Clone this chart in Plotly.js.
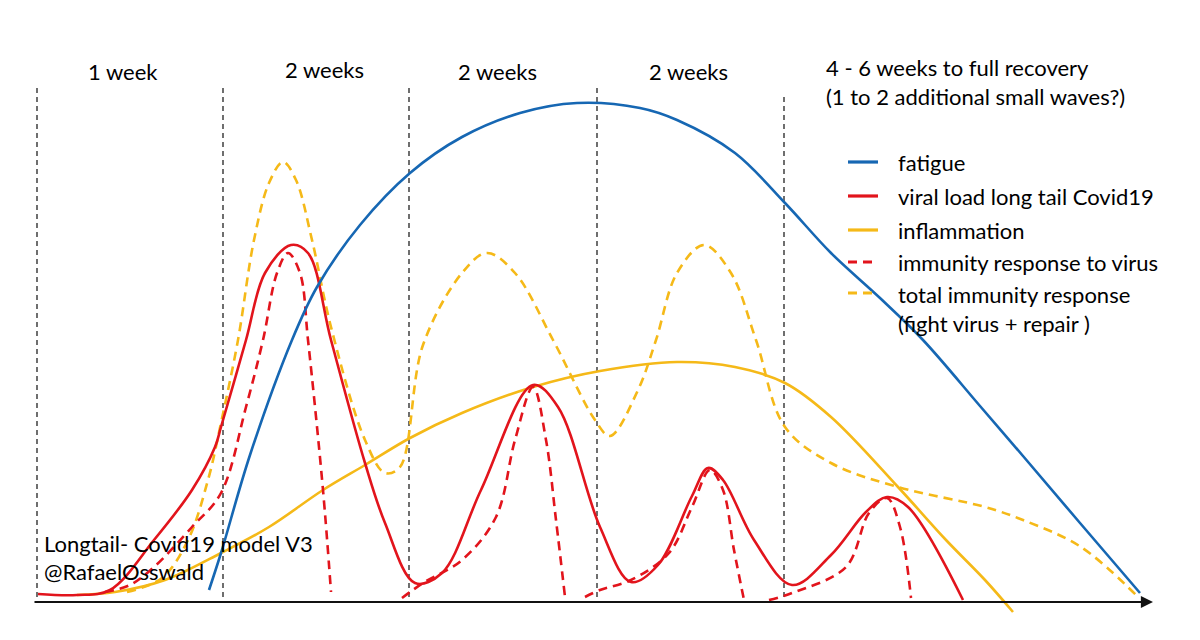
<!DOCTYPE html>
<html>
<head>
<meta charset="utf-8">
<script src="https://cdn.plot.ly/plotly-3.0.1.min.js"></script>
<style>html,body{margin:0;padding:0;background:#fff;}#chart{width:1200px;height:640px;}</style>
</head>
<body>
<div id="chart"></div>
<script>
// ---- data (in drawing units) ----
const fatigueX = [209,221,250,292,317,360,410,462,520,577,640,677,735,785,831,880,923,980,1023,1080,1140];
const fatigueY = [590,553,455,340,287,225,173,137,113,103,108,120,153,203,253,298,340,406,456,523,593];

const viralX = [38,77,110,154,192,215,221,246,265,291,308,331,365,385,415,442,481,533,558,600,631,658,692,708,723,754,792,831,866,887,908,963];
const viralY = [594,595,590,540,490,447,427,340,273,245,253,340,463,523,583,573,490,385,407,527,582,565,496,468,480,540,585,555,512,497,507,600];

const inflamX = [77,115,165,221,269,323,365,410,462,533,600,677,735,785,831,898,946,985,1013];
const inflamY = [595,592,580,553,527,490,465,438,413,387,371,362,367,383,417,487,540,580,612];

const immuneX = [105,130,154,192,221,246,263,277,288,300,308,323,331, null,
                 402,423,462,496,515,533,546,556,565, null,
                 585,600,631,669,692,710,723,734,744, null,
                 769,792,846,869,887,900,911];
const immuneY = [592,585,567,527,493,407,340,273,253,273,340,490,592, null,
                 598,583,560,517,440,387,440,520,597, null,
                 597,590,580,553,507,470,490,550,600, null,
                 600,593,567,513,498,527,598];

const totalX = [127,162,188,208,221,238,254,269,283,296,312,331,365,385,400,423,462,487,515,553,595,610,638,656,677,704,731,756,785,831,898,985,1023,1081,1138];
const totalY = [592,578,540,480,423,340,240,183,162,180,240,327,440,473,467,345,273,253,273,340,420,436,390,340,273,245,273,340,427,463,487,507,520,547,597];

const weekLabels = ['1 week','2 weeks','2 weeks','2 weeks'];
const weekLabelX = [123,324,497,688];
const dividerX = [37,223,409,597,784];
const recoveryLines = ['4 - 6 weeks to full recovery','(1 to 2 additional small waves?)'];
const seriesNames = ['fatigue','viral load long tail Covid19','inflammation','immunity response to virus','total immunity response<br>(fight virus + repair )'];
const creditLines = ['Longtail- Covid19 model V3','@RafaelOsswald'];

// ---- styles ----
const BLUE = '#1667b3', RED = '#e2141c', GOLD = '#f5b918';
const FONT = 'Lato, "Open Sans", sans-serif';
const FS = 22;
const DASH = '9px,6px';
const W = 2.6;

const seriesColors = [BLUE, RED, GOLD, RED, GOLD];

const traces = [
  {x: inflamX, y: inflamY, color: GOLD, dash: 'solid'},
  {x: totalX, y: totalY, color: GOLD, dash: DASH},
  {x: immuneX, y: immuneY, color: RED, dash: DASH},
  {x: viralX, y: viralY, color: RED, dash: 'solid'},
  {x: fatigueX, y: fatigueY, color: BLUE, dash: 'solid'}
].map(s => ({
  type: 'scatter', mode: 'lines', x: s.x, y: s.y, connectgaps: false,
  line: {color: s.color, width: W, dash: s.dash, shape: 'spline', smoothing: 1},
  hoverinfo: 'skip', showlegend: false
}));

const shapes = [];
const annotations = [];

// week dividers
dividerX.forEach((x, i) => {
  shapes.push({type: 'line', xref: 'x', yref: 'y', x0: x, x1: x, y0: i === 4 ? 97 : 88, y1: 600,
    line: {color: '#222', width: 1.3, dash: '5px,4px'}, layer: 'below'});
});

// week labels
weekLabels.forEach((t, i) => {
  annotations.push({x: weekLabelX[i], y: i === 1 ? 69 : 71, xref: 'x', yref: 'y', text: t, showarrow: false,
    font: {family: FONT, size: FS, color: '#000'}, xanchor: 'center', yanchor: 'middle'});
});

// recovery text
recoveryLines.forEach((t, i) => {
  annotations.push({x: 824, y: 67 + i * 29, xref: 'x', yref: 'y', text: t, showarrow: false,
    font: {family: FONT, size: FS, color: '#000'}, xanchor: 'left', yanchor: 'middle'});
});

// legend (drawn manually)
const legendY = [162, 196, 230, 262, 293];
seriesNames.forEach((name, i) => {
  shapes.push({type: 'line', xref: 'x', yref: 'y', x0: 848, x1: 878, y0: legendY[i], y1: legendY[i],
    line: {color: seriesColors[i], width: 3.2, dash: i >= 3 ? '9px,6px' : 'solid'}});
  annotations.push({x: 896, y: legendY[i], xref: 'x', yref: 'y', text: name, showarrow: false,
    font: {family: FONT, size: FS, color: '#000'}, xanchor: 'left', yanchor: i === 4 ? 'top' : 'middle',
    yshift: i === 4 ? 14 : 0, align: 'left'});
});

// credit
creditLines.forEach((t, i) => {
  annotations.push({x: 42, y: 543 + i * 28, xref: 'x', yref: 'y', text: t, showarrow: false,
    font: {family: FONT, size: FS, color: '#000'}, xanchor: 'left', yanchor: 'middle'});
});

// time axis with arrow
annotations.push({x: 1153, y: 602, ax: 33, ay: 602, xref: 'x', yref: 'y', axref: 'x', ayref: 'y',
  text: '', showarrow: true, arrowhead: 2, arrowsize: 1.1, arrowwidth: 2.2, arrowcolor: '#111'});

const layout = {
  width: 1200, height: 640,
  margin: {l: 0, r: 0, t: 0, b: 0},
  paper_bgcolor: '#fff', plot_bgcolor: '#fff',
  xaxis: {range: [0, 1200], visible: false, fixedrange: true},
  yaxis: {range: [640, 0], visible: false, fixedrange: true},
  shapes: shapes, annotations: annotations, showlegend: false
};

Plotly.newPlot('chart', traces, layout, {staticPlot: true, displayModeBar: false});
</script>
</body>
</html>
